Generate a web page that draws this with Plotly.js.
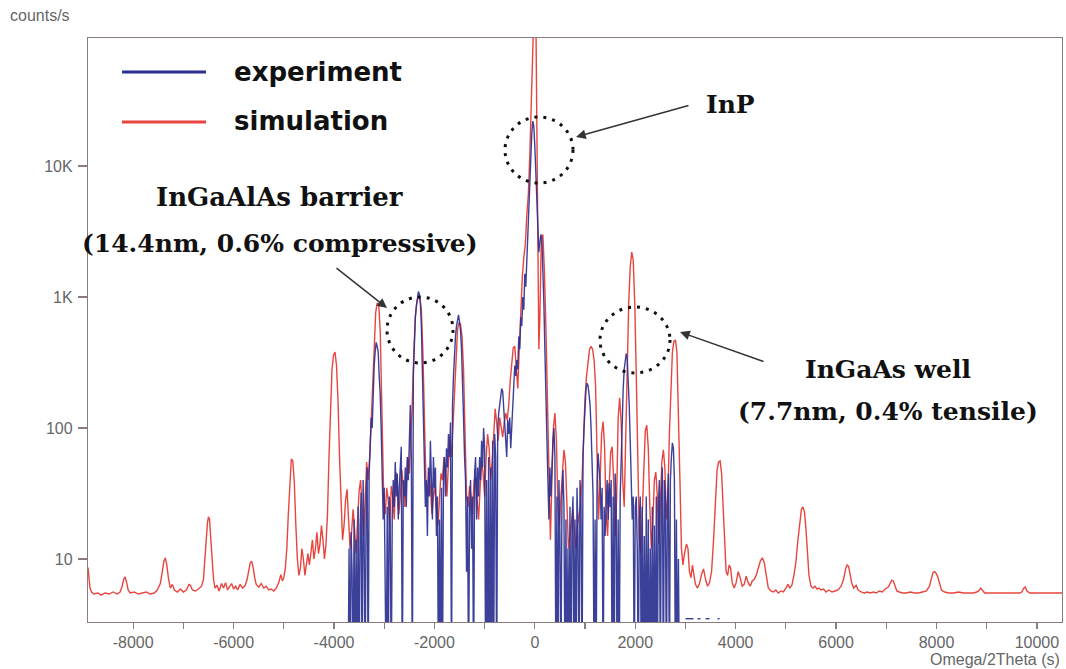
<!DOCTYPE html>
<html>
<head>
<meta charset="utf-8">
<script src="https://cdn.plot.ly/plotly-3.0.1.min.js"></script>
<style>html,body{margin:0;padding:0;background:#fff;}#chart{width:1066px;height:669px;}</style>
</head>
<body>
<div id="chart"></div>
<script>
// ---- data (x = Omega/2Theta in s, y = counts/s) ----
const simulationPoints = [
[-8900,8.6],[-8880,7.5],[-8860,6.0],[-8830,5.6],[-8780,5.4],[-8700,5.5],[-8640,5.3],[-8560,5.5],[-8480,5.4],[-8400,5.6],
[-8320,5.4],[-8260,5.6],[-8220,6.2],[-8190,7.0],[-8160,7.3],[-8130,6.6],[-8100,5.8],[-8060,5.5],[-7980,5.6],[-7900,5.4],
[-7820,5.5],[-7740,5.6],[-7660,5.4],[-7580,5.5],[-7520,5.8],[-7460,6.5],[-7420,8.0],[-7390,9.6],[-7360,10.2],[-7330,9.0],
[-7300,7.2],[-7260,6.0],[-7220,6.4],[-7180,5.8],[-7120,5.6],[-7060,5.9],[-7000,5.6],[-6940,5.8],[-6890,6.4],[-6860,6.3],
[-6820,5.8],[-6760,5.7],[-6700,5.9],[-6640,6.2],[-6600,7.0],[-6570,9.5],[-6545,14],[-6520,19],[-6500,21],[-6480,20],
[-6455,15],[-6430,10],[-6400,7.0],[-6370,6.0],[-6330,6.3],[-6290,5.7],[-6240,6.5],[-6200,6.0],[-6160,6.6],[-6120,5.8],
[-6080,6.2],[-6040,6.5],[-6000,5.9],[-5960,6.2],[-5920,5.8],[-5870,6.4],[-5820,6.0],[-5770,6.3],[-5730,7.0],[-5700,8.2],
[-5670,9.3],[-5640,9.6],[-5610,8.6],[-5580,7.2],[-5550,6.4],[-5500,6.1],[-5450,6.5],[-5400,6.0],[-5350,6.2],[-5300,5.8],
[-5250,5.9],[-5200,5.7],[-5150,6.0],[-5100,6.6],[-5060,7.6],[-5030,6.8],[-5000,7.2],[-4970,8.5],[-4940,12],[-4910,22],
[-4880,40],[-4850,58],[-4820,56],[-4790,38],[-4760,18],[-4730,10],[-4700,7.5],[-4670,8.5],[-4640,12],[-4610,10],
[-4580,7.5],[-4550,8.8],[-4520,11],[-4490,9.0],[-4460,11],[-4430,14],[-4400,10],[-4370,12],[-4340,16],[-4310,11],
[-4280,13],[-4250,18],[-4220,14],[-4190,10],[-4160,13],[-4130,22],[-4100,60],[-4070,150],[-4040,280],[-4010,360],
[-3980,380],[-3950,300],[-3920,160],[-3890,60],[-3860,25],[-3830,14],[-3800,18],[-3770,28],[-3740,34],[-3710,22],
[-3680,12],[-3650,16],[-3620,24],[-3590,17],[-3560,11],[-3530,20],[-3500,33],[-3470,40],[-3440,26],[-3410,15],
[-3380,28],[-3350,55],[-3320,40],[-3290,60],[-3260,110],[-3230,220],[-3200,450],[-3170,760],[-3140,900],[-3110,880],
[-3080,560],[-3060,200],[-3040,70],[-3010,30],[-2980,22],[-2950,35],[-2920,28],[-2890,18],[-2860,36],[-2830,30],
[-2800,20],[-2770,46],[-2740,38],[-2710,22],[-2680,30],[-2650,48],[-2620,35],[-2590,25],[-2560,40],[-2530,60],
[-2500,45],[-2470,80],[-2440,160],[-2410,380],[-2380,700],[-2350,920],[-2320,1000],[-2290,980],[-2260,800],[-2230,380],
[-2200,100],[-2170,40],[-2140,30],[-2110,46],[-2080,35],[-2050,22],[-2020,30],[-1990,36],[-1960,24],[-1930,18],
[-1900,28],[-1870,45],[-1840,40],[-1810,60],[-1780,48],[-1750,30],[-1720,55],[-1690,80],[-1660,60],[-1630,110],
[-1600,200],[-1570,380],[-1540,560],[-1510,640],[-1480,620],[-1450,500],[-1420,280],[-1390,90],[-1360,30],[-1330,25],
[-1300,36],[-1270,30],[-1240,22],[-1210,40],[-1180,42],[-1150,28],[-1120,20],[-1090,35],[-1060,55],[-1030,45],
[-1000,30],[-970,60],[-940,90],[-910,70],[-880,40],[-850,55],[-820,100],[-790,140],[-760,110],[-730,80],
[-700,120],[-670,100],[-640,85],[-610,110],[-580,130],[-550,115],[-520,150],[-490,230],[-460,330],[-430,410],
[-400,420],[-370,300],[-340,200],[-310,400],[-280,900],[-250,1400],[-220,2000],[-190,2500],[-160,4200],[-130,6000],
[-100,12000],[-70,30000],[-40,100000],[-10,200000],[20,150000],[40,20000],[60,1500],[80,400],[100,700],[130,2800],
[160,3000],[190,1600],[220,600],[250,180],[280,30],[310,14],[340,40],[370,100],[400,130],[430,80],
[460,25],[490,18],[520,30],[550,45],[580,68],[610,55],[640,22],[670,12],[700,15],[730,20],
[760,24],[790,16],[820,12],[850,18],[880,22],[910,26],[940,40],[970,90],[1000,170],[1030,250],
[1060,330],[1090,400],[1120,420],[1150,400],[1180,330],[1210,210],[1240,60],[1270,20],[1300,40],[1330,90],
[1360,112],[1390,70],[1420,22],[1450,15],[1480,35],[1510,65],[1540,72],[1570,40],[1600,15],[1630,30],
[1660,120],[1690,170],[1720,110],[1750,40],[1780,25],[1810,80],[1840,300],[1870,900],[1900,1700],[1930,2200],
[1960,1900],[1990,900],[2020,260],[2050,60],[2080,15],[2110,11],[2140,25],[2170,60],[2200,95],[2230,105],
[2260,70],[2290,25],[2320,12],[2350,18],[2380,40],[2410,46],[2440,30],[2470,13],[2500,25],[2530,55],
[2560,68],[2590,50],[2620,20],[2650,30],[2680,90],[2710,220],[2740,380],[2770,460],[2800,470],[2830,380],
[2860,150],[2890,40],[2920,12],[2950,9],[2980,11],[3020,13],[3050,12],[3080,8],[3110,7.2],[3140,9],
[3170,7.5],[3200,6.4],[3240,6.0],[3280,6.5],[3320,7.6],[3360,8.4],[3400,7.0],[3440,6.2],[3480,6.6],[3520,8],
[3560,14],[3600,30],[3630,48],[3660,55],[3690,56],[3720,45],[3750,25],[3780,12],[3810,8.0],[3840,7.5],
[3870,9.0],[3900,8.5],[3930,6.6],[3970,6.0],[4010,6.6],[4050,8.0],[4090,7.2],[4130,6.2],[4170,6.4],[4210,7.4],
[4250,6.6],[4290,6.2],[4330,6.8],[4370,7.0],[4410,7.5],[4450,8.5],[4490,9.6],[4530,10.2],[4570,9.4],[4610,7.5],
[4650,6.0],[4700,5.7],[4750,5.6],[4800,5.8],[4850,5.5],[4900,5.7],[4950,5.6],[5000,6.0],[5040,6.4],[5080,6.0],
[5120,6.3],[5160,7.5],[5200,9.5],[5240,14],[5280,20],[5310,24],[5340,25],[5370,23],[5400,17],[5430,11],
[5460,7.5],[5500,6.2],[5540,6.0],[5580,6.2],[5620,5.9],[5660,6.0],[5700,5.8],[5750,5.9],[5800,5.6],[5860,5.8],
[5920,5.6],[5980,5.7],[6040,5.8],[6100,6.2],[6150,7.0],[6190,8.4],[6220,9.0],[6250,8.8],[6280,7.8],[6310,6.6],
[6350,6.0],[6400,6.3],[6440,5.8],[6500,5.6],[6560,5.5],[6620,5.6],[6680,5.5],[6740,5.6],[6800,5.5],[6860,5.7],
[6920,5.6],[6980,5.9],[7040,6.1],[7080,6.6],[7110,6.9],[7140,6.8],[7170,6.2],[7210,5.7],[7260,5.6],[7320,5.5],
[7400,5.5],[7480,5.6],[7560,5.5],[7640,5.5],[7720,5.6],[7800,5.7],[7860,6.2],[7900,7.2],[7930,7.9],[7960,8.0],
[7990,7.8],[8020,7.4],[8060,6.4],[8100,5.8],[8160,5.6],[8240,5.5],[8340,5.5],[8440,5.6],[8540,5.5],[8640,5.5],
[8740,5.5],[8800,5.6],[8840,5.7],[8880,6.0],[8920,5.7],[8960,5.5],[9060,5.5],[9160,5.5],[9260,5.5],[9360,5.5],
[9460,5.5],[9560,5.5],[9660,5.5],[9700,5.6],[9740,6.0],[9770,6.1],[9800,5.7],[9860,5.5],[10000,5.5],[10200,5.5],[10500,5.5]
];

const experimentPoints = [
[-3720,1],[-3700,12],[-3680,1],[-3660,16],[-3640,8],[-3620,1],[-3600,20],[-3580,1],[-3560,14],[-3540,1],
[-3520,25],[-3500,1],[-3480,18],[-3460,32],[-3440,1],[-3420,40],[-3400,15],[-3380,1],[-3360,30],[-3340,50],
[-3320,1],[-3300,45],[-3280,70],[-3260,120],[-3240,100],[-3220,200],[-3200,300],[-3180,380],[-3160,450],[-3140,420],
[-3120,380],[-3100,250],[-3080,180],[-3060,96],[-3040,40],[-3020,20],[-3000,35],[-2980,12],[-2960,1],[-2940,25],
[-2920,1],[-2900,30],[-2880,18],[-2860,1],[-2840,22],[-2820,40],[-2800,25],[-2780,55],[-2760,30],[-2740,45],
[-2720,20],[-2700,35],[-2680,60],[-2660,72],[-2640,1],[-2620,40],[-2600,30],[-2580,50],[-2560,25],[-2540,60],
[-2520,40],[-2500,90],[-2480,150],[-2460,60],[-2440,1],[-2420,250],[-2400,500],[-2380,700],[-2360,850],[-2340,1000],
[-2320,1100],[-2300,1050],[-2280,900],[-2260,600],[-2240,300],[-2220,120],[-2200,50],[-2180,25],[-2160,40],[-2140,15],
[-2120,50],[-2100,30],[-2080,80],[-2060,45],[-2040,20],[-2020,60],[-2000,35],[-1980,50],[-1960,15],[-1940,30],
[-1920,1],[-1900,20],[-1880,1],[-1860,35],[-1840,1],[-1820,45],[-1800,60],[-1780,30],[-1760,70],[-1740,50],
[-1720,90],[-1700,60],[-1680,110],[-1660,1],[-1640,150],[-1620,250],[-1600,380],[-1580,500],[-1560,600],[-1540,700],
[-1520,730],[-1500,650],[-1480,550],[-1460,400],[-1440,250],[-1420,120],[-1400,60],[-1380,40],[-1360,8],[-1340,30],
[-1320,1],[-1300,25],[-1280,40],[-1260,12],[-1240,30],[-1220,1],[-1200,45],[-1180,60],[-1160,20],[-1140,50],
[-1120,30],[-1100,60],[-1080,40],[-1060,80],[-1040,50],[-1020,100],[-1000,70],[-980,1],[-960,40],[-940,1],
[-920,60],[-900,1],[-880,50],[-860,1],[-840,80],[-820,1],[-800,90],[-780,60],[-760,1],[-740,100],
[-720,130],[-700,150],[-680,180],[-660,200],[-640,190],[-620,150],[-600,110],[-580,80],[-560,60],[-540,115],
[-520,90],[-500,120],[-480,70],[-460,100],[-440,180],[-420,230],[-400,300],[-380,250],[-360,330],[-340,280],
[-320,500],[-300,400],[-280,700],[-260,600],[-240,1000],[-220,800],[-200,1500],[-180,1200],[-160,2000],[-140,3000],
[-120,5000],[-100,8000],[-80,12000],[-60,18000],[-40,22000],[-20,20000],[0,14000],[20,8000],[40,5000],[60,3500],
[80,2200],[100,2600],[120,3000],[140,2800],[160,1800],[180,900],[200,400],[220,150],[240,80],[260,40],
[280,20],[300,50],[320,30],[340,64],[360,80],[380,100],[400,60],[420,1],[440,30],[460,1],
[480,40],[500,15],[520,1],[540,30],[560,48],[580,25],[600,1],[620,20],[640,1],[660,12],
[680,1],[700,25],[720,1],[740,18],[760,30],[780,1],[800,20],[820,1],[840,35],[860,15],
[880,1],[900,40],[920,25],[940,1],[960,60],[980,100],[1000,160],[1020,200],[1040,220],[1060,210],
[1080,180],[1100,150],[1120,100],[1140,60],[1160,30],[1180,1],[1200,20],[1220,1],[1240,40],[1260,64],
[1280,50],[1300,38],[1320,20],[1340,35],[1360,1],[1380,25],[1400,15],[1420,30],[1440,40],[1460,20],
[1480,38],[1500,25],[1520,40],[1540,1],[1560,30],[1580,1],[1600,45],[1620,25],[1640,1],[1660,20],
[1680,1],[1700,30],[1720,60],[1740,120],[1760,200],[1780,280],[1800,330],[1820,370],[1840,340],[1860,250],
[1880,150],[1900,80],[1920,40],[1940,20],[1960,30],[1980,1],[2000,25],[2020,30],[2040,12],[2060,1],
[2080,20],[2100,30],[2120,1],[2140,25],[2160,1],[2180,15],[2200,1],[2220,30],[2240,1],[2260,20],
[2280,1],[2300,12],[2320,1],[2340,25],[2360,1],[2380,18],[2400,1],[2420,30],[2440,1],[2460,25],
[2480,40],[2500,1],[2520,30],[2540,50],[2560,1],[2580,40],[2600,30],[2620,1],[2640,25],[2660,45],
[2680,1],[2700,40],[2720,60],[2740,77],[2760,70],[2780,40],[2800,1],[2820,20],[2840,1],[2860,10],
[2880,1],[2900,1],[2930,null],[3000,3.5],[3160,3.5],[3180,null],[3240,3.5],[3300,3.5],[3320,null],[3400,3.5],
[3480,3.5],[3500,null],[3640,3.5],[3680,3.5]
];

const xTickVals = [-8000,-7000,-6000,-5000,-4000,-3000,-2000,-1000,0,1000,2000,3000,4000,5000,6000,7000,8000,9000,10000];
const xTickText = ['-8000','','-6000','','-4000','','-2000','','0','','2000','','4000','','6000','','8000','','10000'];
const yTickVals = [10,100,1000,10000];
const yTickText = ['10','100','1K','10K'];
const seriesNames = ['experiment','simulation'];

// ---- layout helpers (pixel -> paper fraction) ----
const PL = 88, PR = 1062, PT = 38, PB = 622;
const px = v => (v - PL) / (PR - PL);
const py = v => (PB - v) / (PB - PT);

const simTrace = {
  x: simulationPoints.map(p => p[0]), y: simulationPoints.map(p => p[1]),
  type: 'scatter', mode: 'lines', name: seriesNames[1],
  line: {color: '#e8453f', width: 1.4}, connectgaps: false, hoverinfo: 'x+y'
};
const expTrace = {
  x: experimentPoints.map(p => p[0]), y: experimentPoints.map(p => p[1]),
  type: 'scatter', mode: 'lines', name: seriesNames[0],
  line: {color: '#2b3090', width: 1.4}, opacity: 0.92, connectgaps: false, hoverinfo: 'x+y'
};

const axisColor = '#8a7c7c';
const tickFont = {family: 'Liberation Sans, Arial, sans-serif', size: 16, color: '#666'};
const serifBold = {family: 'DejaVu Serif, serif', size: 25, color: '#111'};
const sansBold = {family: 'DejaVu Sans, sans-serif', size: 26, color: '#111'};

const dotted = {color: '#111', width: 3, dash: '3px,6px'};
const shapes = [
  {type: 'line', xref: 'paper', yref: 'paper', x0: px(122), x1: px(206), y0: py(72), y1: py(72), line: {color: '#2b3090', width: 3}},
  {type: 'line', xref: 'paper', yref: 'paper', x0: px(122), x1: px(206), y0: py(122), y1: py(122), line: {color: '#e8453f', width: 3}},
  {type: 'circle', xref: 'paper', yref: 'paper', x0: px(505), x1: px(573), y0: py(183), y1: py(117), line: dotted},
  {type: 'circle', xref: 'paper', yref: 'paper', x0: px(387), x1: px(453), y0: py(363), y1: py(297), line: dotted},
  {type: 'circle', xref: 'paper', yref: 'paper', x0: px(600), x1: px(670), y0: py(373), y1: py(307), line: dotted}
];

const arrowStyle = {showarrow: true, arrowhead: 2, arrowsize: 1.3, arrowwidth: 1.5, arrowcolor: '#333', standoff: 0, text: ''};
const annotations = [
  {xref: 'paper', yref: 'paper', x: px(8), y: py(16), xanchor: 'left', yanchor: 'middle', showarrow: false,
   text: 'counts/s', font: {family: 'Liberation Sans, Arial, sans-serif', size: 16, color: '#666'}},
  {xref: 'paper', yref: 'paper', x: px(1062), y: py(659), xanchor: 'right', yanchor: 'middle', showarrow: false,
   text: 'Omega/2Theta (s)', font: {family: 'Liberation Sans, Arial, sans-serif', size: 16, color: '#666'}},
  {xref: 'paper', yref: 'paper', x: px(232), y: py(72), xanchor: 'left', yanchor: 'middle', showarrow: false,
   text: '<b>' + seriesNames[0] + '</b>', font: sansBold},
  {xref: 'paper', yref: 'paper', x: px(232), y: py(121), xanchor: 'left', yanchor: 'middle', showarrow: false,
   text: '<b>' + seriesNames[1] + '</b>', font: sansBold},
  {xref: 'paper', yref: 'paper', x: px(730), y: py(104), xanchor: 'center', yanchor: 'middle', showarrow: false,
   text: '<b>InP</b>', font: serifBold},
  {xref: 'paper', yref: 'paper', x: px(279), y: py(197), xanchor: 'center', yanchor: 'middle', showarrow: false,
   text: '<b>InGaAlAs barrier</b>', font: {family: 'DejaVu Serif, serif', size: 26, color: '#111'}},
  {xref: 'paper', yref: 'paper', x: px(280), y: py(243), xanchor: 'center', yanchor: 'middle', showarrow: false,
   text: '<b>(14.4nm, 0.6% compressive)</b>', font: serifBold},
  {xref: 'paper', yref: 'paper', x: px(888), y: py(369), xanchor: 'center', yanchor: 'middle', showarrow: false,
   text: '<b>InGaAs well</b>', font: serifBold},
  {xref: 'paper', yref: 'paper', x: px(888), y: py(411), xanchor: 'center', yanchor: 'middle', showarrow: false,
   text: '<b>(7.7nm, 0.4% tensile)</b>', font: serifBold},
  Object.assign({xref: 'paper', yref: 'paper', x: px(576), y: py(137), ax: 114, ay: -32}, arrowStyle),
  Object.assign({xref: 'paper', yref: 'paper', x: px(387), y: py(308), ax: -52, ay: -41}, arrowStyle),
  Object.assign({xref: 'paper', yref: 'paper', x: px(680), y: py(332), ax: 85, ay: 30}, arrowStyle)
];

const layout = {
  width: 1066, height: 669,
  margin: {l: PL, r: 1066 - PR, t: PT, b: 669 - PB, pad: 0},
  paper_bgcolor: '#ffffff', plot_bgcolor: '#ffffff',
  showlegend: false,
  xaxis: {
    range: [-8900, 10500], tickvals: xTickVals, ticktext: xTickText,
    showgrid: false, zeroline: false, showline: true, mirror: true,
    linecolor: axisColor, linewidth: 1.2, ticks: 'outside', ticklen: 6, tickcolor: axisColor, tickwidth: 1.2,
    tickfont: tickFont, ticklabelstandoff: 0
  },
  yaxis: {
    type: 'log', range: [0.519, 4.977], tickvals: yTickVals, ticktext: yTickText,
    showgrid: false, zeroline: false, showline: true, mirror: true,
    linecolor: axisColor, linewidth: 1.2, ticks: 'outside', ticklen: 9, tickcolor: axisColor, tickwidth: 1.2,
    tickfont: tickFont, ticklabelstandoff: 2
  },
  shapes: shapes,
  annotations: annotations
};

Plotly.newPlot('chart', [simTrace, expTrace], layout, {displayModeBar: false, staticPlot: true});
</script>
</body>
</html>
